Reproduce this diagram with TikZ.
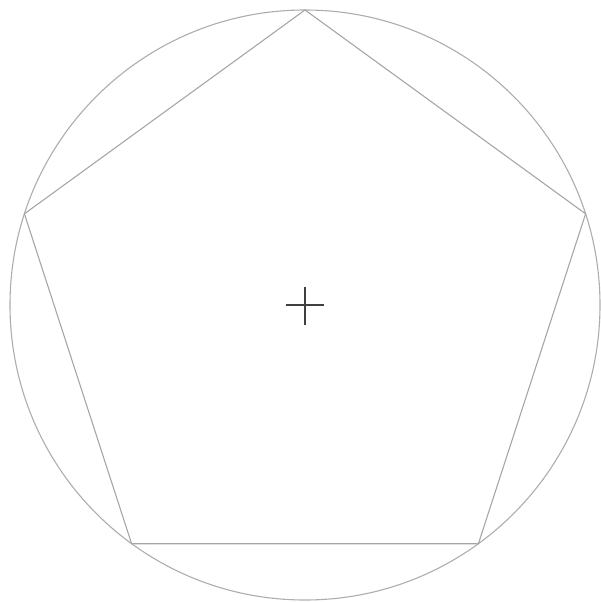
\documentclass[tikz,border=0pt]{standalone}
\begin{document}
\begin{tikzpicture}[x=1pt,y=-1pt,
  outline/.style={draw=black!32,line width=1.1pt},
  poly/.style={draw=black!35,line width=1.1pt},
  crossline/.style={draw=black!75,line width=2pt}]
\useasboundingbox (0,0) rectangle (600,602);
\coordinate (c) at (305,305);
\coordinate (v0) at (305,10);
\coordinate (v1) at (24.4,213.8);
\coordinate (v2) at (131.6,543.7);
\coordinate (v3) at (478.4,543.7);
\coordinate (v4) at (585.6,213.8);
\coordinate (hl) at (286,305);
\coordinate (hr) at (324,305);
\coordinate (vt) at (305,287);
\coordinate (vb) at (305,325);
\draw[outline] (c) circle[radius=295];
\draw[poly] (v0) -- (v1) -- (v2) -- (v3) -- (v4) -- cycle;
\draw[crossline] (hl) -- (hr);
\draw[crossline] (vt) -- (vb);
\end{tikzpicture}
\end{document}
